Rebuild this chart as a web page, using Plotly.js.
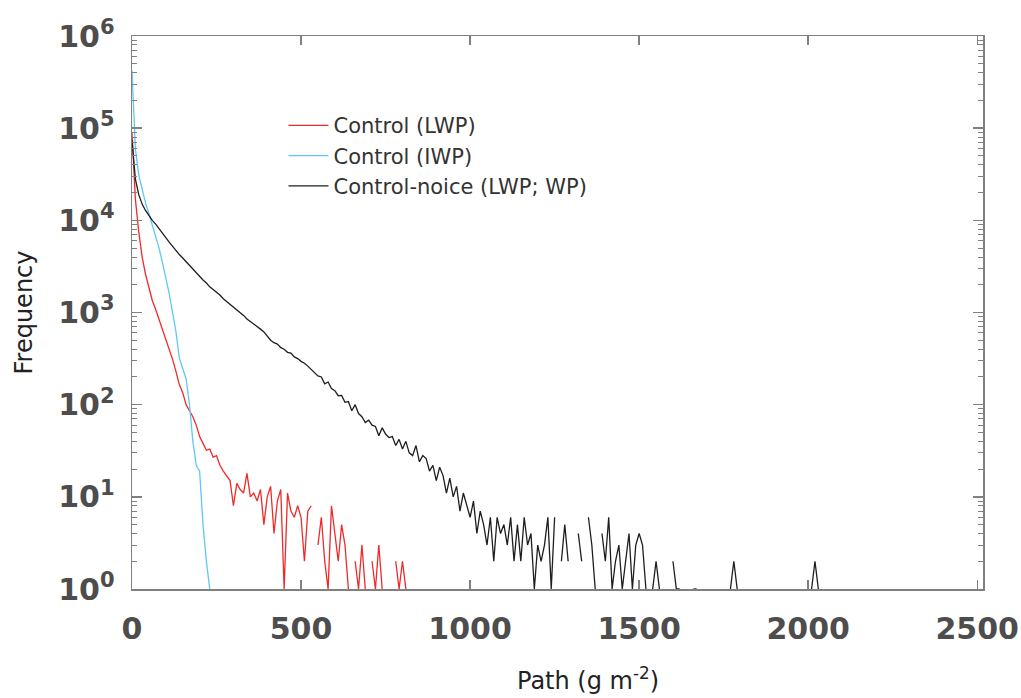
<!DOCTYPE html>
<html>
<head>
<meta charset="utf-8">
<script src="https://cdn.plot.ly/plotly-3.0.1.min.js"></script>
<style>html,body{margin:0;padding:0;background:#fff;}</style>
</head>
<body>
<div id="chart" style="width:1021px;height:698px;"></div>
<script>
// ---- data (histogram counts, bin width 10 g m^-2, first bin at 0) ----
const binWidth = 10;
const seriesNames = ["Control (LWP)", "Control (IWP)", "Control-noice (LWP; WP)"];
const lwpCounts = [90000,17000,7500,4000,2600,1800,1350,1080,850,660,
  520,400,310,230,165,135,100,86,74,60,
  45,38,32,33,27,28,22,19,17,15,
  8,14,12,11,18,10,11,9,12,5,
  10,13,4,9,12,1,11,7,6,8,
  6,2,7,8,0,3,6,2,1,8,
  4,2,5,3,1,0,2,1,3,1,
  0,2,1,3,1,0,0,0,2,1,
  2,1];
const iwpCounts = [420000,60000,31000,21000,15500,11800,9000,6800,5000,3500,
  2400,1600,1000,620,320,240,190,100,40,22,
  19,5,2,1];
const noiseCounts = [74000,28000,19000,15000,12800,11200,10000,9100,8200,7300,
  6500,5800,5200,4700,4250,3900,3550,3250,2950,2700,
  2450,2250,2090,1900,1780,1660,1550,1410,1320,1230,
  1150,1070,1000,930,850,800,760,700,660,615,
  560,500,470,455,415,400,370,362,330,316,
  295,282,262,240,224,205,200,168,176,150,
  142,125,126,106,108,86,100,80,74,64,
  68,60,58,46,56,48,44,45,36,42,
  33,40,30,28,36,24,28,26,19,22,
  15,21,17,11,16,10,13,7,11,8,
  6,9,4,7,5,3,6,2,6,4,
  5,3,6,2,5,2,6,3,4,1,
  3,2,3,6,1,6,0,2,5,2,
  0,0,4,2,0,6,3,1,0,4,
  2,6,1,2,3,1,2,4,1,3,
  4,3,1,0,1,2,1,0,2,0,
  2,1,1,0,0,0,1,1,0,0,
  0,0,0,0,0,0,0,1,2,1,
  0,0,0,0,0,0,0,0,0,0,
  0,0,0,0,0,0,0,0,0,0,
  0,1,2,1,0,0];
const seriesColors = ["#ee2a2a", "#5ec8f2", "#1e1e1e"];
const xTickVals = [0, 500, 1000, 1500, 2000, 2500];
const yTickVals = [1, 10, 100, 1000, 10000, 100000, 1000000];
const yTickText = ["10<sup>0</sup>","10<sup>1</sup>","10<sup>2</sup>","10<sup>3</sup>","10<sup>4</sup>","10<sup>5</sup>","10<sup>6</sup>"];
const xTitle = "Path (g m<sup>-2</sup>)";
const yTitle = "Frequency";

// ---- build traces ----
function toTrace(counts, name, color) {
  return {
    x: counts.map((c, i) => i * binWidth),
    y: counts.map(c => (c > 0 ? c : null)),
    name: name,
    type: "scatter",
    mode: "lines",
    connectgaps: false,
    line: {color: color, width: 1.3}
  };
}
const traces = [
  toTrace(lwpCounts, seriesNames[0], seriesColors[0]),
  toTrace(iwpCounts, seriesNames[1], seriesColors[1]),
  toTrace(noiseCounts, seriesNames[2], seriesColors[2])
];

const minorVals = [];
for (let k = 0; k < 6; k++) for (let m = 2; m <= 9; m++) minorVals.push(m * Math.pow(10, k));

const axisGray = "#808080";
const tickFont = {family: "DejaVu Sans", size: 30, color: "#4d4d4d", weight: "bold"};
const titleFont = {family: "DejaVu Sans", size: 24, color: "#222222"};
const layout = {
  width: 1021, height: 698,
  margin: {l: 132, r: 38, t: 36, b: 109},
  paper_bgcolor: "#ffffff", plot_bgcolor: "#ffffff",
  showlegend: true,
  legend: {
    x: 0.178, y: 0.875, xanchor: "left", yanchor: "top",
    bgcolor: "rgba(0,0,0,0)", borderwidth: 0,
    itemwidth: 40,
    font: {family: "DejaVu Sans", size: 21, color: "#333333"},
    tracegroupgap: 0
  },
  xaxis: {
    range: [0, 2517],
    tickmode: "array", tickvals: xTickVals,
    ticks: "inside", ticklen: 9, tickwidth: 1.5, tickcolor: axisGray,
    showline: true, linecolor: axisGray, linewidth: 1.5, mirror: "ticks",
    showgrid: false, zeroline: false,
    tickfont: tickFont, ticklabelstandoff: 12
  },
  yaxis: {
    type: "log", range: [0, 6],
    tickmode: "array", tickvals: yTickVals, ticktext: yTickText,
    ticks: "inside", ticklen: 10, tickwidth: 1.5, tickcolor: axisGray,
    minor: {tickmode: "array", tickvals: minorVals, ticks: "inside", ticklen: 5, tickwidth: 1, tickcolor: axisGray},
    showline: true, linecolor: axisGray, linewidth: 1.5, mirror: "ticks",
    showgrid: false, zeroline: false,
    tickfont: tickFont, ticklabelstandoff: 10,
    title: {text: yTitle, font: titleFont, standoff: 18}
  },
  annotations: [{
    text: xTitle, font: titleFont, showarrow: false,
    xref: "paper", yref: "paper", x: 0.536, y: -0.162,
    xanchor: "center", yanchor: "middle"
  }]
};

Plotly.newPlot("chart", traces, layout, {displayModeBar: false, staticPlot: true});
</script>
</body>
</html>
